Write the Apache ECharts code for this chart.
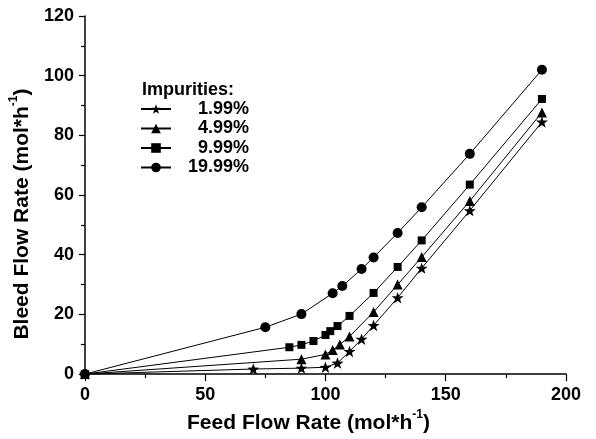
<!DOCTYPE html>
<html>
<head>
<meta charset="utf-8">
<script src="https://cdn.jsdelivr.net/npm/echarts@6/dist/echarts.min.js"></script>
<style>
html,body{margin:0;padding:0;background:#fff;}
#c{width:596px;height:439px;}
</style>
</head>
<body>
<div id="c"></div>
<script>
var seriesNames = ['1.99%', '4.99%', '9.99%', '19.99%'];
var starX = [0, 70, 90, 100, 105, 110, 115, 120, 130, 140, 160, 190];
var starY = [0, 1.7, 2.0, 2.3, 3.7, 7.6, 11.7, 16.3, 25.6, 35.5, 54.8, 84.5];
var triX = [0, 90, 100, 103, 106, 110, 120, 130, 140, 160, 190];
var triY = [0, 5.0, 6.6, 8.1, 9.9, 12.6, 20.8, 30.0, 39.2, 58.0, 87.7];
var sqX = [0, 85, 90, 95, 100, 102, 105, 110, 120, 130, 140, 160, 190];
var sqY = [0, 9.0, 9.8, 11.1, 13.1, 14.4, 16.1, 19.5, 27.2, 35.9, 44.8, 63.5, 92.2];
var cirX = [0, 75, 90, 103, 107, 115, 120, 130, 140, 160, 190];
var cirY = [0, 15.7, 20.1, 27.1, 29.5, 35.2, 39.1, 47.3, 55.9, 73.8, 102.0];
var xTicks = [0, 50, 100, 150, 200];
var yTicks = [0, 20, 40, 60, 80, 100, 120];

function pairs(xs, ys) { return xs.map(function (x, i) { return [x, ys[i]]; }); }

var STAR = 'path://M0,-10L2.35,-3.24L9.51,-3.09L3.8,1.24L5.88,8.09L0,4L-5.88,8.09L-3.8,1.24L-9.51,-3.09L-2.35,-3.24Z';
var FONT = 'Liberation Sans';

function mk(name, xs, ys, symbol, size) {
  return {
    name: name, type: 'line', data: pairs(xs, ys),
    symbol: symbol, symbolSize: size, symbolKeepAspect: true, showAllSymbol: true,
    clip: false,
    lineStyle: { color: '#000', width: 1 },
    itemStyle: { color: '#000', borderWidth: 0 },
    emphasis: { disabled: true },
    animation: false
  };
}

var titleRich = {
  a: { fontFamily: FONT, fontWeight: 'bold', fontSize: 21, color: '#000', lineHeight: 25, verticalAlign: 'bottom' },
  s: { fontFamily: FONT, fontWeight: 'bold', fontSize: 12, color: '#000', lineHeight: 12, verticalAlign: 'top' }
};

var chart = echarts.init(document.getElementById('c'), null, { renderer: 'canvas' });
chart.setOption({
  backgroundColor: '#fff',
  animation: false,
  title: {
    text: 'Impurities:', left: 137, top: 76,
    textStyle: { fontFamily: FONT, fontWeight: 'bold', fontSize: 18, color: '#000' }
  },
  legend: {
    orient: 'vertical', left: 135, top: 95,
    itemWidth: 30, itemHeight: 12, itemGap: 1.5,
    data: seriesNames,
    formatter: function (n) { return '{a|' + n + '}'; },
    textStyle: {
      fontFamily: FONT, fontWeight: 'bold', fontSize: 18, color: '#000',
      rich: { a: { fontFamily: FONT, fontWeight: 'bold', fontSize: 18, width: 73, align: 'right', lineHeight: 18 } }
    }
  },
  grid: { left: 82, right: 30, top: 16, bottom: 64 },
  xAxis: {
    type: 'value', min: 0, max: 200, interval: 50,
    name: '{a|Feed Flow Rate (mol*h}{s|-1}{a|)}',
    nameLocation: 'middle', nameGap: 31,
    nameTextStyle: { padding: [0, 34, 0, 0], rich: titleRich },
    axisLine: { show: true, lineStyle: { color: '#000', width: 1.5 } },
    axisTick: { show: true, inside: false, length: 7, lineStyle: { color: '#000', width: 1.2 } },
    minorTick: { show: true, splitNumber: 2, length: 4, lineStyle: { color: '#000', width: 1.2 } },
    splitLine: { show: false },
    axisLabel: {
      margin: 12, color: '#000', fontFamily: FONT, fontWeight: 'bold', fontSize: 18,
      formatter: function (v) { return xTicks.indexOf(v) >= 0 ? String(v) : ''; }
    }
  },
  yAxis: {
    type: 'value', min: 0, max: 120, interval: 20,
    name: '{a|Bleed Flow Rate (mol*h}{s|-1}{a|)}',
    nameLocation: 'middle', nameGap: 37, nameRotate: 90,
    nameTextStyle: { padding: [0, 38, 0, 0], rich: titleRich },
    axisLine: { show: true, lineStyle: { color: '#000', width: 1.5 } },
    axisTick: { show: true, inside: false, length: 6, lineStyle: { color: '#000', width: 1.2 } },
    minorTick: { show: true, splitNumber: 2, length: 4, lineStyle: { color: '#000', width: 1.2 } },
    splitLine: { show: false },
    axisLabel: {
      margin: 11, color: '#000', fontFamily: FONT, fontWeight: 'bold', fontSize: 18,
      formatter: function (v) { return yTicks.indexOf(v) >= 0 ? String(v) : ''; }
    }
  },
  series: [
    mk(seriesNames[0], starX, starY, STAR, 12),
    mk(seriesNames[1], triX, triY, 'triangle', 10),
    mk(seriesNames[2], sqX, sqY, 'rect', 8),
    mk(seriesNames[3], cirX, cirY, 'circle', 10)
  ]
});
</script>
</body>
</html>
